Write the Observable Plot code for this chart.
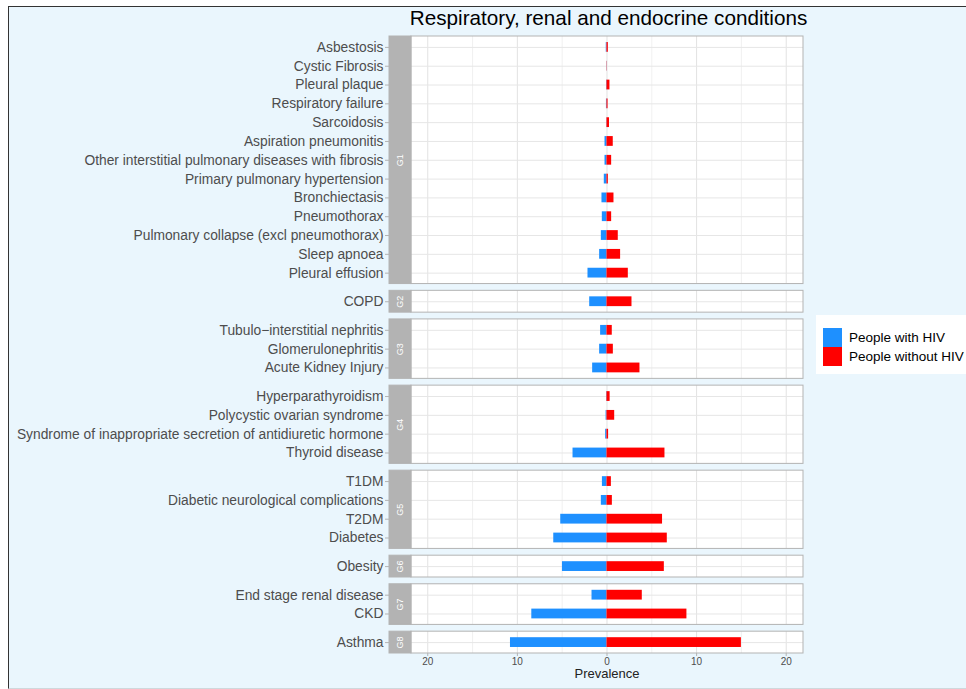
<!DOCTYPE html>
<html>
<head>
<meta charset="utf-8">
<script src="https://cdn.jsdelivr.net/npm/d3@7"></script>
<script src="https://cdn.jsdelivr.net/npm/@observablehq/plot@0.6"></script>
<style>
html,body{margin:0;padding:0;width:966px;height:689px;overflow:hidden;background:#fff;font-family:"Liberation Sans",Arial,sans-serif;}
#bg{position:absolute;left:8px;top:6px;width:958px;height:683px;background:#eaf6fd;border-top:1.5px solid #333;border-left:1.5px solid #333;border-bottom:1px solid #cfd8dc;box-sizing:border-box;}
#title{position:absolute;left:608.5px;top:7.5px;transform:translateX(-50%);font-size:20.7px;line-height:20.7px;white-space:nowrap;color:#000;}
#chart{position:absolute;left:0;top:30px;}
#legend{position:absolute;left:816px;top:315px;width:150px;height:59px;background:#fff;}
.key{position:absolute;left:7px;width:19px;height:19px;}
.lab{position:absolute;left:33px;font-size:13.5px;line-height:19px;color:#000;white-space:nowrap;}
</style>
</head>
<body>
<div id="bg"></div>
<div id="title"></div>
<div id="chart"></div>
<div id="legend"></div>
<script>
// ---- Data ----
const categories = [
  "Asbestosis", "Cystic Fibrosis", "Pleural plaque", "Respiratory failure", "Sarcoidosis",
  "Aspiration pneumonitis", "Other interstitial pulmonary diseases with fibrosis",
  "Primary pulmonary hypertension", "Bronchiectasis", "Pneumothorax",
  "Pulmonary collapse (excl pneumothorax)", "Sleep apnoea", "Pleural effusion",
  "COPD",
  "Tubulo\u2212interstitial nephritis", "Glomerulonephritis", "Acute Kidney Injury",
  "Hyperparathyroidism", "Polycystic ovarian syndrome",
  "Syndrome of inappropriate secretion of antidiuretic hormone", "Thyroid disease",
  "T1DM", "Diabetic neurological complications", "T2DM", "Diabetes",
  "Obesity",
  "End stage renal disease", "CKD",
  "Asthma"
];
const groupOf = [
  "G1","G1","G1","G1","G1","G1","G1","G1","G1","G1","G1","G1","G1",
  "G2",
  "G3","G3","G3",
  "G4","G4","G4","G4",
  "G5","G5","G5","G5",
  "G6",
  "G7","G7",
  "G8"
];
const withHIV = [
  0.08, 0.02, 0.05, 0.06, 0.03, 0.22, 0.22, 0.30, 0.56, 0.52, 0.63, 0.82, 2.12,
  1.93,
  0.71, 0.82, 1.60,
  0.05, 0.10, 0.15, 3.79,
  0.51, 0.63, 5.16, 5.94,
  4.97,
  1.67, 8.39,
  10.77
];
const withoutHIV = [
  0.15, 0.03, 0.33, 0.12, 0.28, 0.70, 0.52, 0.15, 0.78, 0.52, 1.26, 1.52, 2.38,
  2.79,
  0.59, 0.71, 3.68,
  0.35, 0.86, 0.18, 6.47,
  0.49, 0.60, 6.20, 6.73,
  6.40,
  3.94, 8.92,
  15.00
];
const xTicks = [-20, -10, 0, 10, 20];
const xGrid = [-20, -15, -10, -5, 0, 5, 10, 15, 20];
const seriesNames = ["People with HIV", "People without HIV"];
const seriesColors = ["#1E90FF", "#FF0000"];
const titleText = "Respiratory, renal and endocrine conditions";
const xLabel = "Prevalence";

// ---- Layout helpers (facet emulation with free space) ----
const PAD = 0.58, GAP = 0.36, BAR = 0.26;
const X_STRIP = -24.27, X_PANEL = -21.82, X_MAX = 21.93;

const groupNames = [...new Set(groupOf)];
const rows = [];
const panels = [];
let cursor = 0;
for (const g of groupNames) {
  const idx = categories.map((c, i) => i).filter(i => groupOf[i] === g);
  const y1 = cursor;
  idx.forEach((i, k) => rows.push({
    name: categories[i], group: g, pos: y1 + PAD + k,
    hiv: withHIV[i], nohiv: withoutHIV[i]
  }));
  const y2 = y1 + 2 * PAD + idx.length - 1;
  panels.push({group: g, y1, y2, mid: (y1 + y2) / 2});
  cursor = y2 + GAP;
}
const total = cursor - GAP;
const nameByPos = new Map(rows.map(r => [r.pos, r.name]));
const gridData = panels.flatMap(p => xGrid.map(v => ({...p, v, major: v % 10 === 0})));

document.getElementById("title").textContent = titleText;

const chart = Plot.plot({
  width: 966,
  height: 659,
  marginLeft: 389,
  marginRight: 163,
  marginTop: 6,
  marginBottom: 36,
  style: {background: "transparent", fontFamily: "'Liberation Sans', Arial, sans-serif", overflow: "visible"},
  x: {domain: [X_STRIP, X_MAX]},
  y: {domain: [0, total], range: [6, 623]},
  marks: [
    Plot.rect(panels, {x1: () => X_PANEL, x2: () => X_MAX, y1: "y1", y2: "y2", fill: "white"}),
    Plot.ruleX(gridData.filter(d => !d.major), {x: "v", y1: "y1", y2: "y2", stroke: "#ececec", strokeWidth: 0.8}),
    Plot.ruleX(gridData.filter(d => d.major), {x: "v", y1: "y1", y2: "y2", stroke: "#e2e2e2", strokeWidth: 1}),
    Plot.ruleY(rows, {y: "pos", x1: () => X_PANEL, x2: () => X_MAX, stroke: "#e6e6e6", strokeWidth: 1}),
    Plot.rectX(rows, {x1: () => 0, x2: d => -d.hiv, y1: d => d.pos - BAR, y2: d => d.pos + BAR, fill: seriesColors[0]}),
    Plot.rectX(rows, {x1: () => 0, x2: d => d.nohiv, y1: d => d.pos - BAR, y2: d => d.pos + BAR, fill: seriesColors[1]}),
    Plot.rect(panels, {x1: () => X_PANEL, x2: () => X_MAX, y1: "y1", y2: "y2", fill: "none", stroke: "#b3b3b3", strokeWidth: 1}),
    Plot.rect(panels, {x1: () => X_STRIP, x2: () => X_PANEL, y1: "y1", y2: "y2", fill: "#b3b3b3", stroke: "#b3b3b3", strokeWidth: 1}),
    Plot.text(panels, {x: () => (X_STRIP + X_PANEL) / 2, y: "mid", text: "group", rotate: -90, fill: "white", fontSize: 9}),
    Plot.axisY({ticks: rows.map(r => r.pos), tickFormat: p => nameByPos.get(p), tickSize: 4, tickPadding: 2,
      fontSize: 13.8, fill: "#4d4d4d", stroke: "#b3b3b3", label: null}),
    Plot.axisX({ticks: xTicks, tickFormat: d => Math.abs(d), tickSize: 3, tickPadding: 1.5,
      fontSize: 10, fill: "#4d4d4d", stroke: "#b3b3b3", label: null}),
    Plot.text([xLabel], {x: () => 0, text: d => d, frameAnchor: "bottom", dy: 24, fontSize: 13, fill: "#222"})
  ]
});
document.getElementById("chart").appendChild(chart);

// ---- Legend ----
const legend = document.getElementById("legend");
seriesNames.forEach((name, i) => {
  const key = document.createElement("div");
  key.className = "key";
  key.style.top = (13 + i * 19) + "px";
  key.style.background = seriesColors[i];
  legend.appendChild(key);
  const lab = document.createElement("div");
  lab.className = "lab";
  lab.style.top = (13 + i * 19) + "px";
  lab.textContent = name;
  legend.appendChild(lab);
});
</script>
</body>
</html>
